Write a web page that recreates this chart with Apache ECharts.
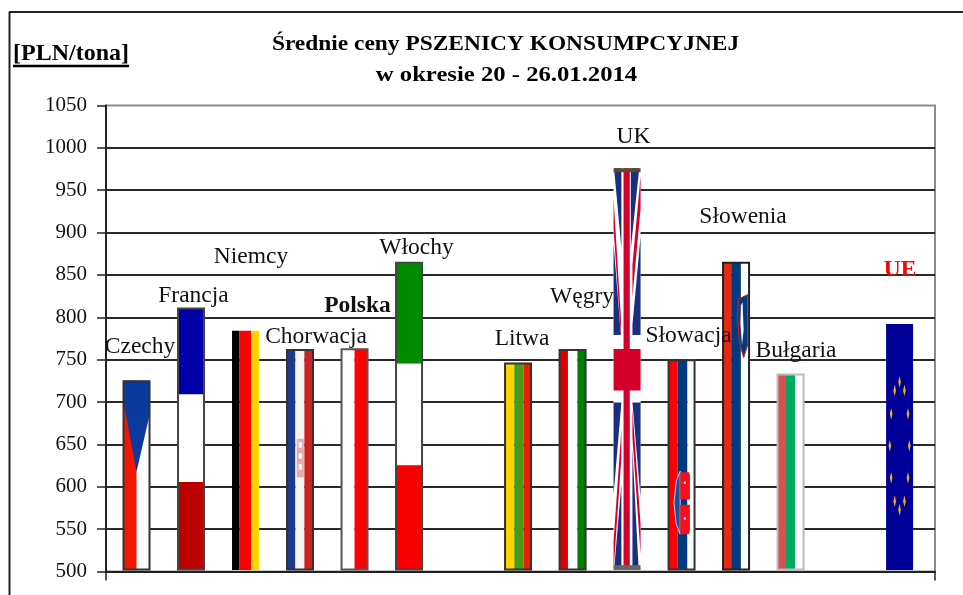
<!DOCTYPE html>
<html>
<head>
<meta charset="utf-8">
<style>
  html, body { margin: 0; padding: 0; background: #fff; }
  #main { width: 963px; height: 595px; }
</style>
<script src="https://cdn.jsdelivr.net/npm/echarts@6/dist/echarts.min.js"></script>
</head>
<body>
<div id="main"></div>
<script>
// dane
var categories = ['Czechy', 'Francja', 'Niemcy', 'Chorwacja', 'Polska', 'Włochy', 'Litwa', 'Węgry', 'UK', 'Słowacja', 'Słowenia', 'Bułgaria', 'UE'];
var slots = [0, 1, 2, 3, 4, 5, 7, 8, 9, 10, 11, 12, 14];
var prices = [725, 811, 784, 762, 763, 865, 746, 762, 976, 750, 865, 733, 792];
var yTicks = { min: 500, max: 1050, step: 50 };
var unitLabel = '[PLN/tona]';
var titleLines = ['Średnie ceny PSZENICY KONSUMPCYJNEJ', 'w okresie 20 - 26.01.2014'];

var FONT = '"Liberation Serif", serif';
var BAR_W = 27;
var xMin = -0.56, xMax = 14.65;

// przesuniecie podpisu wzgledem szczytu slupka [dx, dy]
var labelShift = {
  'Czechy': [3.5, -34], 'Francja': [2.5, -12], 'Niemcy': [5.5, -74], 'Chorwacja': [16, -13],
  'Polska': [3, -43], 'Włochy': [7.5, -14], 'Litwa': [4, -24], 'Węgry': [9.5, -53],
  'UK': [6.5, -31], 'Słowacja': [7, -24], 'Słowenia': [7, -45], 'Bułgaria': [5.5, -23], 'UE': [0.5, -54]
};

function r(u0, v0, u1, v1, fill) { return { rect: [u0, v0, u1, v1], fill: fill }; }
function p(pts, fill, stroke) { return { poly: pts, fill: fill, stroke: stroke }; }

var BLUE_UK = '#1a2f80', RED_UK = '#d4002c';
// EU - gwiazdki
var euStars = [];
for (var a = 0; a < 12; a++) {
  var cx = 0.5 + 0.36 * Math.sin(a * Math.PI / 6), cy = 0.495 - 0.26 * Math.cos(a * Math.PI / 6);
  euStars.push(p([[cx, cy - 0.024], [cx + 0.05, cy], [cx, cy + 0.024], [cx - 0.05, cy]], '#e8b010'));
}

// flagi w ukladzie slupka: u w poprzek 0-1, v od gory 0-1
var flagArt = {
  'Czechy': { border: '#333', art: [
    r(0, 0, 1, 1, '#fff'), r(0, 0, 0.5, 1, '#f01800'),
    p([[0, 0], [1, 0], [1, 0.17], [0.5, 0.48], [0, 0.1]], '#0a3a9e')] },
  'Francja': { border: '#444', art: [
    r(0, 0, 1, 0.33, '#0000a8'), r(0, 0.33, 1, 0.664, '#fff'), r(0, 0.664, 1, 1, '#bb0000')] },
  'Niemcy': { border: null, art: [
    r(0, 0, 0.28, 1, '#000'), r(0.28, 0, 0.71, 1, '#f00'), r(0.71, 0, 1, 1, '#ffd400')] },
  'Chorwacja': { border: '#333', art: [
    r(0, 0, 0.33, 1, '#1a3a8a'), r(0.33, 0, 0.66, 1, '#f5f5f5'), r(0.66, 0, 1, 1, '#cc2222'),
    r(0.38, 0.405, 0.64, 0.58, '#e9a8ac'), r(0.45, 0.42, 0.57, 0.445, '#fff'), r(0.45, 0.47, 0.57, 0.495, '#fff'), r(0.45, 0.52, 0.57, 0.545, '#fff')] },
  'Polska': { border: '#555', art: [r(0, 0, 0.5, 1, '#fff'), r(0.5, 0, 1, 1, '#f00')] },
  'Włochy': { border: '#444', art: [
    r(0, 0, 1, 0.33, '#008a00'), r(0, 0.33, 1, 0.66, '#fff'), r(0, 0.66, 1, 1, '#f80000')] },
  'Litwa': { border: '#333', art: [
    r(0, 0, 0.36, 1, '#ffd500'), r(0.36, 0, 0.7, 1, '#4a9a1a'), r(0.7, 0, 1, 1, '#ee1c00')] },
  'Węgry': { border: '#333', art: [
    r(0, 0, 0.33, 1, '#dd0000'), r(0.33, 0, 0.68, 1, '#fff'), r(0.68, 0, 1, 1, '#008000')] },
  'UK': { border: null, art: [
    r(0, 0, 1, 1, '#fff'),
    p([[0.02, 0], [0.29, 0], [0.29, 0.2]], BLUE_UK), p([[0, 0.187], [0.27, 0.415], [0, 0.415]], BLUE_UK),
    p([[0.64, 0], [0.95, 0], [0.64, 0.2]], BLUE_UK), p([[1, 0.17], [0.7, 0.39], [0.7, 0.415], [1, 0.415]], BLUE_UK),
    p([[0, 0.075], [0.27, 0.37], [0.27, 0.415], [0, 0.15]], RED_UK), p([[1, 0.02], [0.7, 0.24], [0.7, 0.32], [1, 0.1]], RED_UK),
    p([[0, 0.583], [0.29, 0.583], [0, 0.813]], BLUE_UK), p([[0.7, 0.583], [1, 0.583], [1, 0.82]], BLUE_UK),
    p([[0.29, 0.787], [0.29, 1], [0.02, 1]], BLUE_UK), p([[0.7, 0.7], [0.93, 1], [0.7, 1]], BLUE_UK),
    p([[0.29, 0.65], [0.29, 0.72], [0, 1], [0, 0.93]], RED_UK), p([[0.7, 0.6], [1, 0.885], [1, 0.96], [0.7, 0.67]], RED_UK),
    r(0.37, 0, 0.6, 1, RED_UK), r(0, 0.45, 1, 0.553, RED_UK),
    r(0, 0, 1, 0.01, '#5a4a30'), r(0, 0.988, 1, 1, '#666')] },
  'Słowacja': { border: '#333', art: [
    r(0, 0, 0.35, 1, '#f00'), r(0.35, 0, 0.72, 1, '#003a80'), r(0.72, 0, 1, 1, '#fff'),
    p([[0.22, 0.68], [0.3, 0.58], [0.45, 0.53], [0.45, 0.83], [0.3, 0.78]], '#1a4f9a', '#c0d0e8'),
    p([[0.45, 0.535], [0.78, 0.535], [0.81, 0.55], [0.81, 0.665], [0.45, 0.665]], '#f5101c'),
    p([[0.45, 0.69], [0.81, 0.69], [0.81, 0.81], [0.78, 0.83], [0.45, 0.83]], '#f5101c'),
    r(0.58, 0.58, 0.66, 0.59, '#fff'), r(0.58, 0.75, 0.66, 0.76, '#fff')] },
  'Słowenia': { border: '#222', art: [
    r(0, 0, 0.32, 1, '#e52a10'), r(0.32, 0, 0.68, 1, '#003a80'), r(0.68, 0, 1, 1, '#fff'),
    p([[0.58, 0.12], [0.93, 0.105], [0.93, 0.27], [0.78, 0.31], [0.62, 0.26], [0.56, 0.18]], '#003a80', '#d8231a'),
    p([[0.68, 0.14], [0.74, 0.13], [0.78, 0.22], [0.72, 0.27], [0.66, 0.2]], '#fff')] },
  'Bułgaria': { border: '#bbb', art: [
    r(0, 0, 0.33, 1, '#dd4d50'), r(0.33, 0, 0.67, 1, '#00a860'), r(0.67, 0, 1, 1, '#fff')] },
  'UE': { border: null, art: [r(0, 0, 1, 1, '#000099')].concat(euStars) }
};

function renderFlag(params, api) {
  var name = categories[params.dataIndex];
  var top = api.coord([api.value(0), api.value(1)]);
  var base = api.coord([api.value(0), yTicks.min]);
  var x0 = top[0] - BAR_W / 2, y0 = top[1], h = base[1] - 1.5 - top[1];
  var flag = flagArt[name];
  var children = flag.art.map(function (it) {
    if (it.rect) {
      return { type: 'rect', shape: { x: x0 + it.rect[0] * BAR_W, y: y0 + it.rect[1] * h, width: (it.rect[2] - it.rect[0]) * BAR_W, height: (it.rect[3] - it.rect[1]) * h }, style: { fill: it.fill } };
    }
    return { type: 'polygon', shape: { points: it.poly.map(function (q) { return [x0 + q[0] * BAR_W, y0 + q[1] * h]; }) }, style: { fill: it.fill, stroke: it.stroke || null, lineWidth: 1 } };
  });
  if (flag.border) {
    children.push({ type: 'rect', shape: { x: x0 + 0.5, y: y0 + 0.5, width: BAR_W - 1, height: h - 1 }, style: { fill: null, stroke: flag.border, lineWidth: 2 } });
  }
  return { type: 'group', children: children };
}

function renderLabel(params, api) {
  var name = categories[params.dataIndex];
  var top = api.coord([api.value(0), api.value(1)]);
  var s = labelShift[name];
  var strong = name === 'Polska' || name === 'UE';
  return {
    type: 'text',
    style: {
      x: top[0] + s[0], y: top[1] + s[1], text: name, align: 'center', verticalAlign: 'middle',
      font: (strong ? 'bold ' : '') + '23.5px ' + FONT, fill: name === 'UE' ? '#ff0000' : '#111'
    }
  };
}

var seriesData = slots.map(function (s, i) { return [s, prices[i]]; });

var myChart = echarts.init(document.getElementById('main'), null, { renderer: 'canvas' });
myChart.setOption({
  animation: false,
  backgroundColor: '#fff',
  grid: { show: true, left: 106, right: 28, top: 105.5, bottom: 23.5, borderColor: '#8c8c8c', borderWidth: 2, backgroundColor: 'transparent' },
  xAxis: {
    type: 'value', min: xMin, max: xMax,
    axisLine: { show: true, onZero: false, lineStyle: { color: '#222', width: 2 } },
    axisTick: { show: true, customValues: [xMin, xMax], length: 9, lineStyle: { color: '#222', width: 1.5 } },
    axisLabel: { show: false }, splitLine: { show: false }
  },
  yAxis: {
    type: 'value', min: yTicks.min, max: yTicks.max, interval: yTicks.step,
    axisLine: { show: true, onZero: false, lineStyle: { color: '#222', width: 2 } },
    axisTick: { show: true, length: 9, lineStyle: { color: '#222', width: 1.5 } },
    axisLabel: { margin: 19, color: '#111', fontFamily: FONT, fontSize: 21, formatter: function (v) { return String(v); } },
    splitLine: { show: true, showMinLine: false, showMaxLine: false, lineStyle: { color: '#2a2a2a', width: 2 } }
  },
  series: [
    { type: 'custom', name: 'flagi', data: seriesData, renderItem: renderFlag, z: 3, clip: false },
    { type: 'custom', name: 'podpisy', data: seriesData, renderItem: renderLabel, z: 5, clip: false, silent: true }
  ],
  graphic: [
    { type: 'line', shape: { x1: 9, y1: 12, x2: 963, y2: 12 }, style: { stroke: '#222', lineWidth: 2 } },
    { type: 'line', shape: { x1: 9.5, y1: 12, x2: 9.5, y2: 595 }, style: { stroke: '#222', lineWidth: 2 } },
    { type: 'text', style: { x: 71, y: 54, text: unitLabel, align: 'center', verticalAlign: 'middle', font: 'bold 24px ' + FONT, fill: '#000' } },
    { type: 'line', shape: { x1: 13, y1: 66, x2: 129, y2: 66 }, style: { stroke: '#000', lineWidth: 2.5 } },
    { type: 'text', x: 505.5, y: 45, scaleX: 1.115, style: { x: 0, y: 0, text: titleLines[0], align: 'center', verticalAlign: 'middle', font: 'bold 21px ' + FONT, fill: '#000' } },
    { type: 'text', x: 506.5, y: 76, scaleX: 1.175, style: { x: 0, y: 0, text: titleLines[1], align: 'center', verticalAlign: 'middle', font: 'bold 21px ' + FONT, fill: '#000' } }
  ]
});
</script>
</body>
</html>
